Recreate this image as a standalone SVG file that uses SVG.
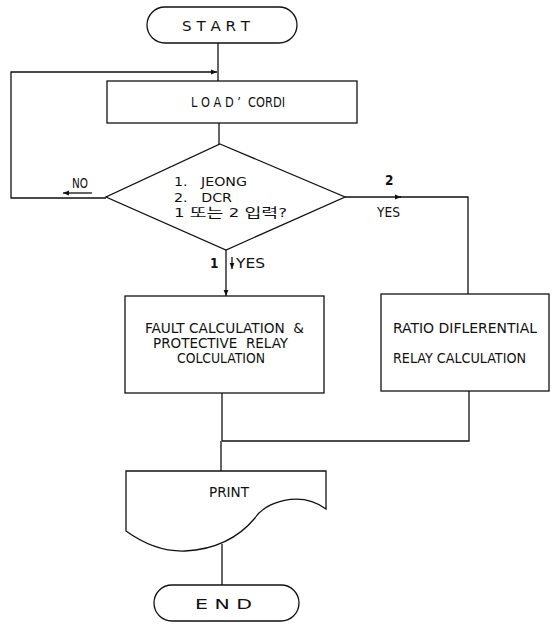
<svg xmlns="http://www.w3.org/2000/svg" width="554" height="625" viewBox="0 0 554 625">
<style>
.s{fill:none;stroke:#111;stroke-width:1.3}
.n{fill:#fff;stroke:#111;stroke-width:1.3}
text{font-family:"Liberation Sans Narrow","DejaVu Sans Condensed","Liberation Sans","Noto Sans CJK KR",sans-serif;fill:#111;font-size:13.5px;white-space:pre}
.k{font-size:13px}
</style>
<defs>
<marker id="ah" viewBox="0 0 10 10" refX="10" refY="5" markerWidth="7" markerHeight="6" markerUnits="userSpaceOnUse" orient="auto">
<path d="M0,1 L10,5 L0,9 Z" fill="#111"/>
</marker>
</defs>
<rect width="554" height="625" fill="#fff"/>
<g id="connectors">
<path class="s" d="M218,43 V81"/>
<path class="s" d="M106,198 H11 V72 H217" marker-end="url(#ah)"/>
<path class="s" d="M219,123 V144"/>
<path class="s" d="M345,197 H401" marker-end="url(#ah)"/>
<path class="s" d="M400,197 H468 V294"/>
<path class="s" d="M226,250 V296" marker-end="url(#ah)"/>
<path class="s" d="M222,393 V441 M469,391 V441 H222 M221,441 V471"/>
<path class="s" d="M222,544 V585"/>
<path class="s" d="M92,193 H63" marker-end="url(#ah)"/>
<path class="s" d="M232,257 V269" marker-end="url(#ah)"/>
<text x="72" y="188" textLength="16" lengthAdjust="spacingAndGlyphs">NO</text>
<text x="385" y="185" font-weight="bold">2</text>
<text x="377" y="217" textLength="23" lengthAdjust="spacingAndGlyphs">YES</text>
<text x="210" y="268" font-weight="bold">1</text>
<text x="236" y="268" textLength="29" lengthAdjust="spacingAndGlyphs">YES</text>
</g>
<g id="start">
<rect class="n" x="147" y="7" width="150" height="36" rx="18"/>
<text x="182" y="31" textLength="68" lengthAdjust="spacingAndGlyphs">S T A R T</text>
</g>
<g id="load">
<rect class="n" x="107" y="81" width="250" height="42"/>
<text x="191" y="107" textLength="94" lengthAdjust="spacingAndGlyphs">L O A D ’  CORDI</text>
</g>
<g id="decision">
<polygon class="n" points="220,144 345,197 226,250 106,197"/>
<text class="k" x="174" y="186" textLength="73" lengthAdjust="spacingAndGlyphs">1.   JEONG</text>
<text class="k" x="174" y="202" textLength="58" lengthAdjust="spacingAndGlyphs">2.   DCR</text>
<text class="k" x="174" y="217" textLength="113" lengthAdjust="spacingAndGlyphs">1 또는 2 입력?</text>
</g>
<g id="fault">
<rect class="n" x="125" y="296" width="199" height="97"/>
<text x="145" y="333" textLength="159" lengthAdjust="spacingAndGlyphs">FAULT CALCULATION  &amp;</text>
<text x="153" y="348" textLength="135" lengthAdjust="spacingAndGlyphs">PROTECTIVE  RELAY</text>
<text x="177" y="363" textLength="88" lengthAdjust="spacingAndGlyphs">COLCULATION</text>
</g>
<g id="ratio">
<rect class="n" x="381" y="294" width="168" height="97"/>
<text x="393" y="333" textLength="144" lengthAdjust="spacingAndGlyphs">RATIO DIFLERENTIAL</text>
<text x="393" y="363" textLength="133" lengthAdjust="spacingAndGlyphs">RELAY CALCULATION</text>
</g>
<g id="print">
<path class="n" d="M126,471 H326 V509 C300,490 265,502 255,518 C245,530 225,549 185,551 Q155,552 126,531 Z"/>
<text x="209" y="497" textLength="40" lengthAdjust="spacingAndGlyphs">PRINT</text>
</g>
<g id="end">
<rect class="n" x="154" y="585" width="145" height="36" rx="18"/>
<text x="195" y="609" textLength="57" lengthAdjust="spacingAndGlyphs">E N D</text>
</g>
</svg>
